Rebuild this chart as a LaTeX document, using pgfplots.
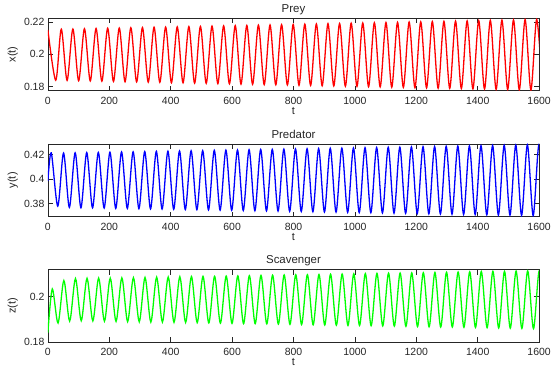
\documentclass[border=0pt]{standalone}
\usepackage{fontspec}
\setmainfont{Liberation Sans}
\usepackage{pgfplots}
\pgfplotsset{compat=1.18}
\definecolor{axcol}{rgb}{0.15,0.15,0.15}
\pgfplotsset{panel/.style={
  scale only axis, width=491.2bp, height=72.5bp,
  xmin=0, xmax=1600,
  xtick={0,200,400,600,800,1000,1200,1400,1600},
  xticklabels={0,200,400,600,800,1000,1200,1400,1600},
  scaled ticks=false,
  tick align=inside,
  major tick length=5bp,
  axis line style={line width=0.7bp, draw=axcol},
  every tick/.style={line width=0.6bp, draw=axcol},
  tick label style={font=\fontsize{10.5}{12}\selectfont, text=axcol},
  xticklabel style={anchor=base, yshift=-13.8bp},
  label style={font=\fontsize{11}{13}\selectfont, text=axcol},
  xlabel={t},
  xlabel style={at={(axis description cs:0.5,-0.33)}, anchor=base},
  ylabel style={at={(axis description cs:-0.0713,0.5)}, anchor=center},
  title style={font=\fontsize{11.5}{13}\selectfont, text=axcol, at={(axis description cs:0.5,1.0)}, anchor=base},
  every axis plot/.append style={line width=1.3bp, smooth, mark=none},
}}
\begin{document}
\begin{tikzpicture}
\begin{axis}[panel, at={(47.9bp,-90.8bp)}, title={Prey}, ylabel={x(t)},
  ymin=0.1775, ymax=0.2222, ytick={0.18,0.2,0.22}, yticklabels={0.18,0.2,0.22}]
\addplot[color=red] coordinates {
(0,0.2150)(25.5,0.1840)(43.6,0.2155)(62.5,0.1839)(81.4,0.2156)(100.2,0.1837)(119.1,0.2158)(138.0,0.1836)(156.9,0.2159)(175.8,0.1834)(194.7,0.2161)(213.6,0.1833)(232.5,0.2162)(251.3,0.1831)(270.2,0.2164)(289.1,0.1830)(308.0,0.2165)(326.9,0.1828)(345.8,0.2167)(364.6,0.1827)(383.5,0.2168)(402.4,0.1825)(421.3,0.2169)(440.2,0.1824)(459.1,0.2171)(477.9,0.1822)(496.8,0.2172)(515.7,0.1821)(534.6,0.2174)(553.5,0.1819)(572.4,0.2175)(591.3,0.1818)(610.2,0.2177)(629.0,0.1816)(647.9,0.2178)(666.8,0.1815)(685.7,0.2180)(704.6,0.1813)(723.5,0.2181)(742.3,0.1812)(761.2,0.2183)(780.1,0.1811)(799.0,0.2184)(817.9,0.1809)(836.8,0.2186)(855.7,0.1808)(874.5,0.2187)(893.4,0.1806)(912.3,0.2189)(931.2,0.1805)(950.1,0.2190)(969.0,0.1803)(987.9,0.2192)(1006.7,0.1802)(1025.6,0.2193)(1044.5,0.1800)(1063.4,0.2195)(1082.3,0.1799)(1101.2,0.2196)(1120.0,0.1797)(1138.9,0.2197)(1157.8,0.1796)(1176.7,0.2199)(1195.6,0.1794)(1214.5,0.2200)(1233.4,0.1793)(1252.2,0.2202)(1271.1,0.1791)(1290.0,0.2203)(1308.9,0.1790)(1327.8,0.2205)(1346.7,0.1789)(1365.6,0.2206)(1384.4,0.1787)(1403.3,0.2208)(1422.2,0.1786)(1441.1,0.2209)(1460.0,0.1784)(1478.9,0.2211)(1497.7,0.1783)(1516.6,0.2212)(1535.5,0.1781)(1554.4,0.2214)(1573.3,0.1780)(1592.2,0.2215)(1611.1,0.1779)
};
\end{axis}
\begin{axis}[panel, at={(47.9bp,-216.5bp)}, title={Predator}, ylabel={y(t)},
  ymin=0.3695, ymax=0.4288, ytick={0.38,0.4,0.42}, yticklabels={0.38,0.4,0.42}]
\addplot[color=blue] coordinates {
(0,0.3985)(11.0,0.4215)(32.1,0.3780)(51.0,0.4214)(69.9,0.3769)(88.8,0.4216)(107.6,0.3767)(126.5,0.4218)(145.4,0.3766)(164.3,0.4219)(183.2,0.3764)(202.1,0.4221)(221.0,0.3762)(239.9,0.4223)(258.7,0.3761)(277.6,0.4224)(296.5,0.3759)(315.4,0.4226)(334.3,0.3757)(353.2,0.4228)(372.0,0.3756)(390.9,0.4229)(409.8,0.3754)(428.7,0.4231)(447.6,0.3752)(466.5,0.4233)(485.3,0.3751)(504.2,0.4234)(523.1,0.3749)(542.0,0.4236)(560.9,0.3747)(579.8,0.4238)(598.7,0.3746)(617.6,0.4239)(636.4,0.3744)(655.3,0.4241)(674.2,0.3742)(693.1,0.4243)(712.0,0.3741)(730.9,0.4244)(749.7,0.3739)(768.6,0.4246)(787.5,0.3737)(806.4,0.4248)(825.3,0.3736)(844.2,0.4249)(863.1,0.3734)(881.9,0.4251)(900.8,0.3732)(919.7,0.4253)(938.6,0.3731)(957.5,0.4254)(976.4,0.3729)(995.3,0.4256)(1014.1,0.3727)(1033.0,0.4258)(1051.9,0.3726)(1070.8,0.4259)(1089.7,0.3724)(1108.6,0.4261)(1127.4,0.3722)(1146.3,0.4262)(1165.2,0.3721)(1184.1,0.4264)(1203.0,0.3719)(1221.9,0.4266)(1240.8,0.3717)(1259.6,0.4267)(1278.5,0.3716)(1297.4,0.4269)(1316.3,0.3714)(1335.2,0.4271)(1354.1,0.3712)(1373.0,0.4272)(1391.8,0.3711)(1410.7,0.4274)(1429.6,0.3709)(1448.5,0.4276)(1467.4,0.3707)(1486.3,0.4277)(1505.1,0.3706)(1524.0,0.4279)(1542.9,0.3704)(1561.8,0.4281)(1580.7,0.3702)(1599.6,0.4282)(1618.5,0.3701)
};
\end{axis}
\begin{axis}[panel, at={(47.9bp,-342bp)}, title={Scavenger}, ylabel={z(t)},
  ymin=0.18, ymax=0.212, ytick={0.18,0.2}, yticklabels={0.18,0.2}]
\addplot[color=green] coordinates {
(0,0.1842)(14.3,0.2034)(33.1,0.1884)(52.0,0.2071)(70.9,0.1892)(89.8,0.2080)(108.6,0.1894)(127.5,0.2081)(146.4,0.1893)(165.3,0.2082)(184.2,0.1892)(203.1,0.2082)(222.0,0.1891)(240.9,0.2083)(259.7,0.1890)(278.6,0.2084)(297.5,0.1889)(316.4,0.2085)(335.3,0.1888)(354.2,0.2086)(373.0,0.1888)(391.9,0.2087)(410.8,0.1887)(429.7,0.2088)(448.6,0.1886)(467.5,0.2089)(486.3,0.1885)(505.2,0.2090)(524.1,0.1884)(543.0,0.2090)(561.9,0.1883)(580.8,0.2091)(599.7,0.1882)(618.6,0.2092)(637.4,0.1881)(656.3,0.2093)(675.2,0.1881)(694.1,0.2094)(713.0,0.1880)(731.9,0.2095)(750.7,0.1879)(769.6,0.2096)(788.5,0.1878)(807.4,0.2097)(826.3,0.1877)(845.2,0.2097)(864.0,0.1876)(883.0,0.2098)(901.8,0.1875)(920.7,0.2099)(939.6,0.1874)(958.5,0.2100)(977.4,0.1873)(996.3,0.2101)(1015.1,0.1873)(1034.0,0.2102)(1052.9,0.1872)(1071.8,0.2103)(1090.7,0.1871)(1109.6,0.2104)(1128.4,0.1870)(1147.3,0.2104)(1166.2,0.1869)(1185.1,0.2105)(1204.0,0.1868)(1222.9,0.2106)(1241.7,0.1867)(1260.6,0.2107)(1279.5,0.1866)(1298.4,0.2108)(1317.3,0.1866)(1336.2,0.2109)(1355.1,0.1865)(1374.0,0.2110)(1392.8,0.1864)(1411.7,0.2111)(1430.6,0.1863)(1449.5,0.2112)(1468.4,0.1862)(1487.3,0.2112)(1506.1,0.1861)(1525.0,0.2113)(1543.9,0.1860)(1562.8,0.2114)(1581.7,0.1859)(1600.6,0.2115)(1619.5,0.1858)
};
\end{axis}
\pgfresetboundingbox
\path[use as bounding box] (0,0) rectangle (559bp,-385bp);
\end{tikzpicture}
\end{document}
